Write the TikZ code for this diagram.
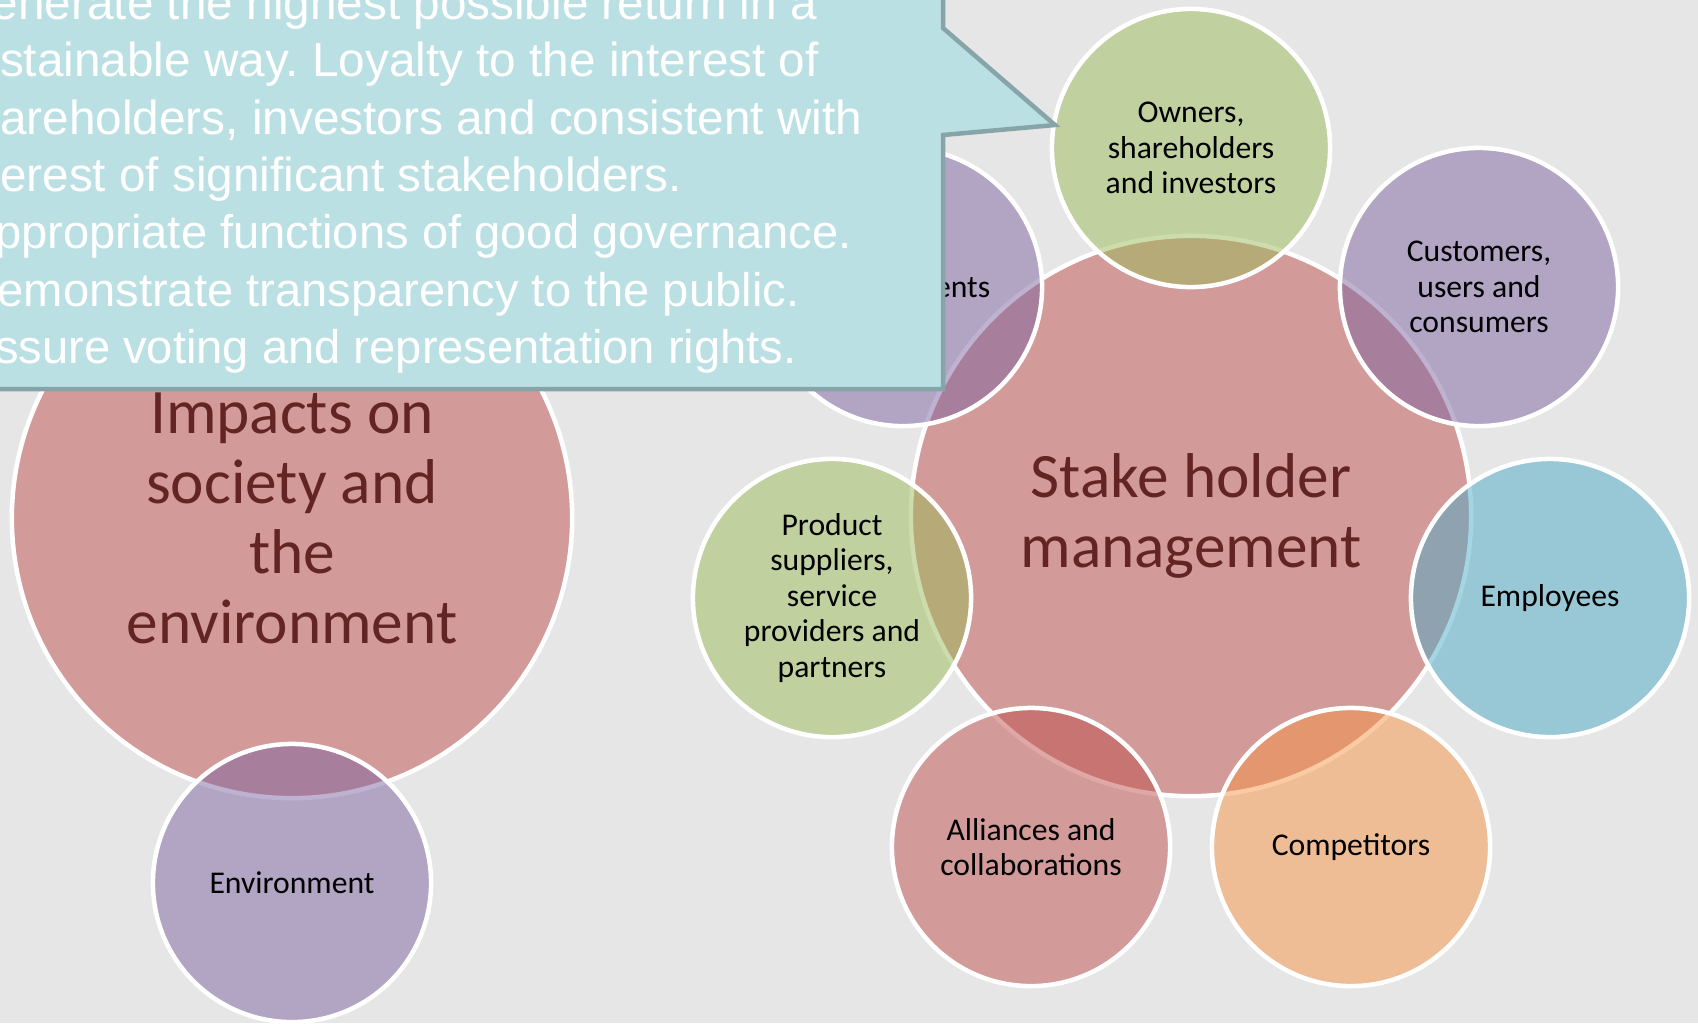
\documentclass[tikz,border=0pt]{standalone}
\usepackage{fontspec}
\setmainfont{Carlito}
\newfontfamily\calloutfont{Liberation Sans}

\definecolor{bggray}{HTML}{E6E6E6}
\definecolor{accred}{HTML}{C0504D}
\definecolor{accpurple}{HTML}{8064A2}
\definecolor{accgreen}{HTML}{9BBB59}
\definecolor{accblue}{HTML}{4BACC6}
\definecolor{accorange}{HTML}{F79646}
\definecolor{titlered}{HTML}{632523}
\definecolor{calloutfill}{HTML}{BBE0E3}
\definecolor{calloutline}{HTML}{87A5A8}

\begin{document}
\begin{tikzpicture}[x=0.01cm, y=-0.01cm,
    bigcirc/.style={circle, draw=white, line width=0.045cm, fill=accred, fill opacity=0.5, text opacity=1,
        minimum size=5.6cm, inner sep=0pt, align=center, text=titlered,
        font=\fontsize{18pt}{19.9pt}\selectfont},
    satcirc/.style={circle, draw=white, line width=0.045cm, fill opacity=0.5, text opacity=1,
        minimum size=2.78cm, inner sep=0pt, align=center, text=black,
        font=\fontsize{9pt}{10.1pt}\selectfont}]
    % page and background
    \useasboundingbox (0,0) rectangle (1698,1023);
    \clip (0,0) rectangle (1698,1023);
    \fill[bggray] (0,0) rectangle (1698,1023);

    % Left cluster
    \node[bigcirc] (impacts) at (292,518) {Impacts on\\society and\\the\\environment};
    \node[satcirc, fill=accpurple] (environment) at (292,883) {Environment};

    % Right cluster: centre circle and seven satellites
    \node[bigcirc] (stake) at (1191,516) {Stake holder\\management};
    \node[satcirc, fill=accgreen] (owners) at (1191,148) {Owners,\\shareholders\\and investors};
    \node[satcirc, fill=accpurple] (customers) at (1479,287) {Customers,\\users and\\consumers};
    \node[satcirc, fill=accblue] (employees) at (1550,598) {Employees};
    \node[satcirc, fill=accorange] (competitors) at (1351,847) {Competitors};
    \node[satcirc, fill=accred] (alliances) at (1031,847) {Alliances and\\collaborations};
    \node[satcirc, fill=accgreen] (suppliers) at (832,598) {Product\\suppliers,\\service\\providers and\\partners};
    \node[satcirc, fill=accpurple] (governments) at (903,287) {Governments};

    % Callout over the top left
    \coordinate (tip) at (1055,125);
    \draw[calloutline, line width=0.045cm, fill=calloutfill] (-20,-20) -- (943,-20) -- (943,28) -- (tip)
        -- (943,135) -- (943,389) -- (-20,389) -- cycle;
    \node[anchor=west, inner sep=0pt, align=left, text=white,
        font=\calloutfont\fontsize{13.57pt}{16.3pt}\selectfont\frenchspacing] (goals) at (-46,179)
        {Generate the highest possible return in a\\
        \hspace*{-0.05cm}sustainable way. Loyalty to the interest of\\
        \hspace*{-0.05cm}shareholders, investors and consistent with\\
        \hspace*{-0.05cm}interest of significant stakeholders.\\
        {\fontsize{13.4pt}{16.3pt}\selectfont\hspace*{0.09cm}Appropriate functions of good governance.}\\
        {\fontsize{13.4pt}{16.3pt}\selectfont\hspace*{0.09cm}Demonstrate transparency to the public.}\\
        {\fontsize{13.4pt}{16.3pt}\selectfont\hspace*{0.09cm}Assure voting and representation rights.}};
\end{tikzpicture}
\end{document}
